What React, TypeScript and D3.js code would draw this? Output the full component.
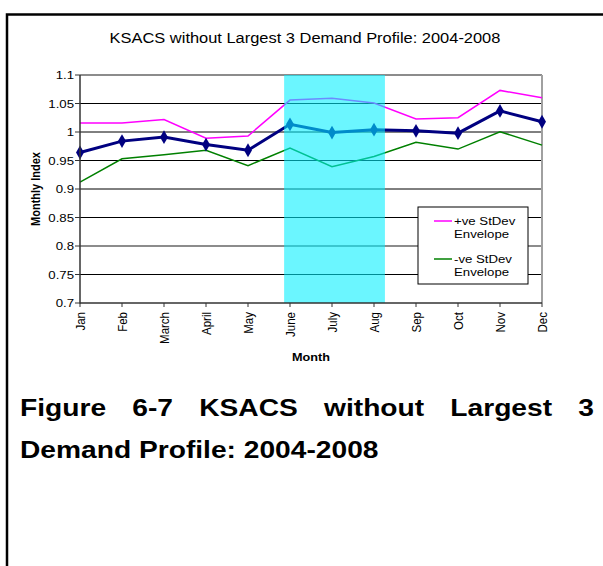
import React, { useEffect, useRef } from "react";
import * as d3 from "d3";

const months = ["Jan", "Feb", "March", "April", "May", "June", "July", "Aug", "Sep", "Oct", "Nov", "Dec"];
const plusEnv = [1.016, 1.016, 1.022, 0.989, 0.993, 1.056, 1.059, 1.051, 1.023, 1.025, 1.073, 1.06];
const meanIdx = [0.964, 0.984, 0.991, 0.978, 0.968, 1.0135, 0.999, 1.004, 1.002, 0.998, 1.037, 1.018];
const minusEnv = [0.912, 0.953, 0.96, 0.968, 0.941, 0.972, 0.939, 0.957, 0.982, 0.97, 1.0005, 0.977];
const yTicks = [0.7, 0.75, 0.8, 0.85, 0.9, 0.95, 1.0, 1.05, 1.1];
const bandRange = [4.86, 7.26]; // highlighted summer period, in month-index units
const legendItems = [
  { lines: ["+ve StDev", "Envelope"], color: "#ff00ff" },
  { lines: ["-ve StDev", "Envelope"], color: "#008000" },
];
const chartTitle = "KSACS without Largest 3 Demand Profile: 2004-2008";
const captionLine1 = ["Figure", "6-7", "KSACS", "without", "Largest", "3"];
const captionLine2 = "Demand Profile: 2004-2008";

const W = 603;
const H = 566;
const SX = 1.15;
const FONT = "'Liberation Sans', Arial, sans-serif";

export default function App() {
  const ref = useRef<SVGSVGElement | null>(null);

  useEffect(() => {
    const svg = d3.select(ref.current);
    svg.selectAll("*").remove();

    const left = 80, right = 542, top = 75, bottom = 303;
    const x = d3.scaleLinear().domain([0, months.length - 1]).range([left, right]);
    const y = d3.scaleLinear().domain([0.7, 1.1]).range([bottom, top]);

    const tf = (px: number, py: number, rot = false) =>
      `translate(${px},${py}) scale(${SX},1)` + (rot ? " rotate(-90)" : "");

    // outer frame (only top and left visible)
    svg.append("rect").attr("x", 7).attr("y", 14.5).attr("width", 800).attr("height", 800)
      .attr("fill", "none").attr("stroke", "#000").attr("stroke-width", 2.5);

    // title
    svg.append("text").attr("transform", tf(305, 43)).attr("text-anchor", "middle")
      .attr("font-family", FONT).attr("font-size", 14.3).attr("fill", "#000").text(chartTitle);

    // gridlines
    yTicks.forEach((t) => {
      if (t === 0.7) return;
      const isTop = t === 1.1;
      const isGray = Math.abs(t - 0.8) < 1e-9 || isTop;
      svg.append("line").attr("x1", left).attr("x2", right).attr("y1", y(t)).attr("y2", y(t))
        .attr("stroke", isGray ? "#8c8c8c" : "#000").attr("stroke-width", isGray ? 2 : 1);
    });
    // right border
    svg.append("line").attr("x1", right).attr("x2", right).attr("y1", top).attr("y2", bottom)
      .attr("stroke", "#a0a0a0").attr("stroke-width", 2);

    // series
    const line = d3.line<number>().x((_, i) => x(i)).y((d) => y(d));
    svg.append("path").attr("d", line(plusEnv)).attr("fill", "none").attr("stroke", "#ff00ff").attr("stroke-width", 1.5);
    svg.append("path").attr("d", line(minusEnv)).attr("fill", "none").attr("stroke", "#008000").attr("stroke-width", 1.5);
    svg.append("path").attr("d", line(meanIdx)).attr("fill", "none").attr("stroke", "#000080").attr("stroke-width", 3);
    const diamond = d3.symbol().type(d3.symbolDiamond).size(55);
    svg.selectAll("path.mk").data(meanIdx).enter().append("path").attr("class", "mk")
      .attr("d", diamond()).attr("transform", (d, i) => `translate(${x(i)},${y(d)})`)
      .attr("fill", "#000080");

    // highlighted band
    svg.append("rect").attr("x", x(bandRange[0])).attr("width", x(bandRange[1]) - x(bandRange[0]))
      .attr("y", top).attr("height", bottom - top).attr("fill", "#00f0ff").attr("opacity", 0.58);

    // axes
    svg.append("line").attr("x1", left).attr("x2", left).attr("y1", top).attr("y2", bottom + 0.5)
      .attr("stroke", "#333").attr("stroke-width", 1.5);
    svg.append("line").attr("x1", left).attr("x2", right).attr("y1", bottom).attr("y2", bottom)
      .attr("stroke", "#333").attr("stroke-width", 1.5);
    yTicks.forEach((t) => {
      svg.append("line").attr("x1", left - 5).attr("x2", left).attr("y1", y(t)).attr("y2", y(t))
        .attr("stroke", "#333").attr("stroke-width", 1);
      svg.append("text").attr("transform", tf(left - 6, y(t))).attr("dy", "0.35em")
        .attr("text-anchor", "end").attr("font-family", FONT).attr("font-size", 11.5)
        .attr("fill", "#000").text(String(+t.toFixed(2)));
    });
    months.forEach((m, i) => {
      svg.append("line").attr("x1", x(i)).attr("x2", x(i)).attr("y1", bottom).attr("y2", bottom + 4)
        .attr("stroke", "#333").attr("stroke-width", 1);
      svg.append("text").attr("transform", tf(x(i), bottom + 9, true)).attr("dy", "0.35em")
        .attr("text-anchor", "end").attr("font-family", FONT).attr("font-size", 11.5)
        .attr("fill", "#000").text(m);
    });

    // axis titles
    svg.append("text").attr("transform", tf(311, 361)).attr("text-anchor", "middle")
      .attr("font-family", FONT).attr("font-size", 11).attr("font-weight", "bold").text("Month");
    svg.append("text").attr("transform", tf(36, 189, true)).attr("dy", "0.35em").attr("text-anchor", "middle")
      .attr("font-family", FONT).attr("font-size", 11).attr("font-weight", "bold").text("Monthly Index");

    // legend
    const lg = svg.append("g");
    lg.append("rect").attr("x", 418).attr("y", 207).attr("width", 110).attr("height", 77)
      .attr("fill", "#fff").attr("stroke", "#000").attr("stroke-width", 1);
    legendItems.forEach((it, k) => {
      const ly = 221 + k * 38;
      lg.append("line").attr("x1", 434).attr("x2", 452).attr("y1", ly).attr("y2", ly)
        .attr("stroke", it.color).attr("stroke-width", 1.5);
      it.lines.forEach((s, j) => {
        lg.append("text").attr("transform", tf(454, ly + 4 + j * 13))
          .attr("font-family", FONT).attr("font-size", 11.5).attr("fill", "#000").text(s);
      });
    });

    // caption (justified first line)
    const capSize = 24.5;
    const capLeft = 20, capRight = 594;
    const words = captionLine1.map((w) =>
      svg.append("text").attr("font-family", FONT).attr("font-size", capSize)
        .attr("font-weight", "bold").attr("fill", "#000").text(w)
    );
    const widths = words.map((t) => (t.node() as SVGTextElement).getComputedTextLength() * SX);
    const total = widths.reduce((a, b) => a + b, 0);
    const gap = (capRight - capLeft - total) / (words.length - 1);
    let cx = capLeft;
    words.forEach((t, i) => {
      t.attr("transform", tf(cx, 416));
      cx += widths[i] + gap;
    });
    svg.append("text").attr("transform", tf(capLeft, 458)).attr("font-family", FONT)
      .attr("font-size", capSize).attr("font-weight", "bold").attr("fill", "#000").text(captionLine2);
  }, []);

  return (
    <svg ref={ref} width={W} height={H} style={{ position: "absolute", left: 0, top: 0, background: "#fff" }} />
  );
}
